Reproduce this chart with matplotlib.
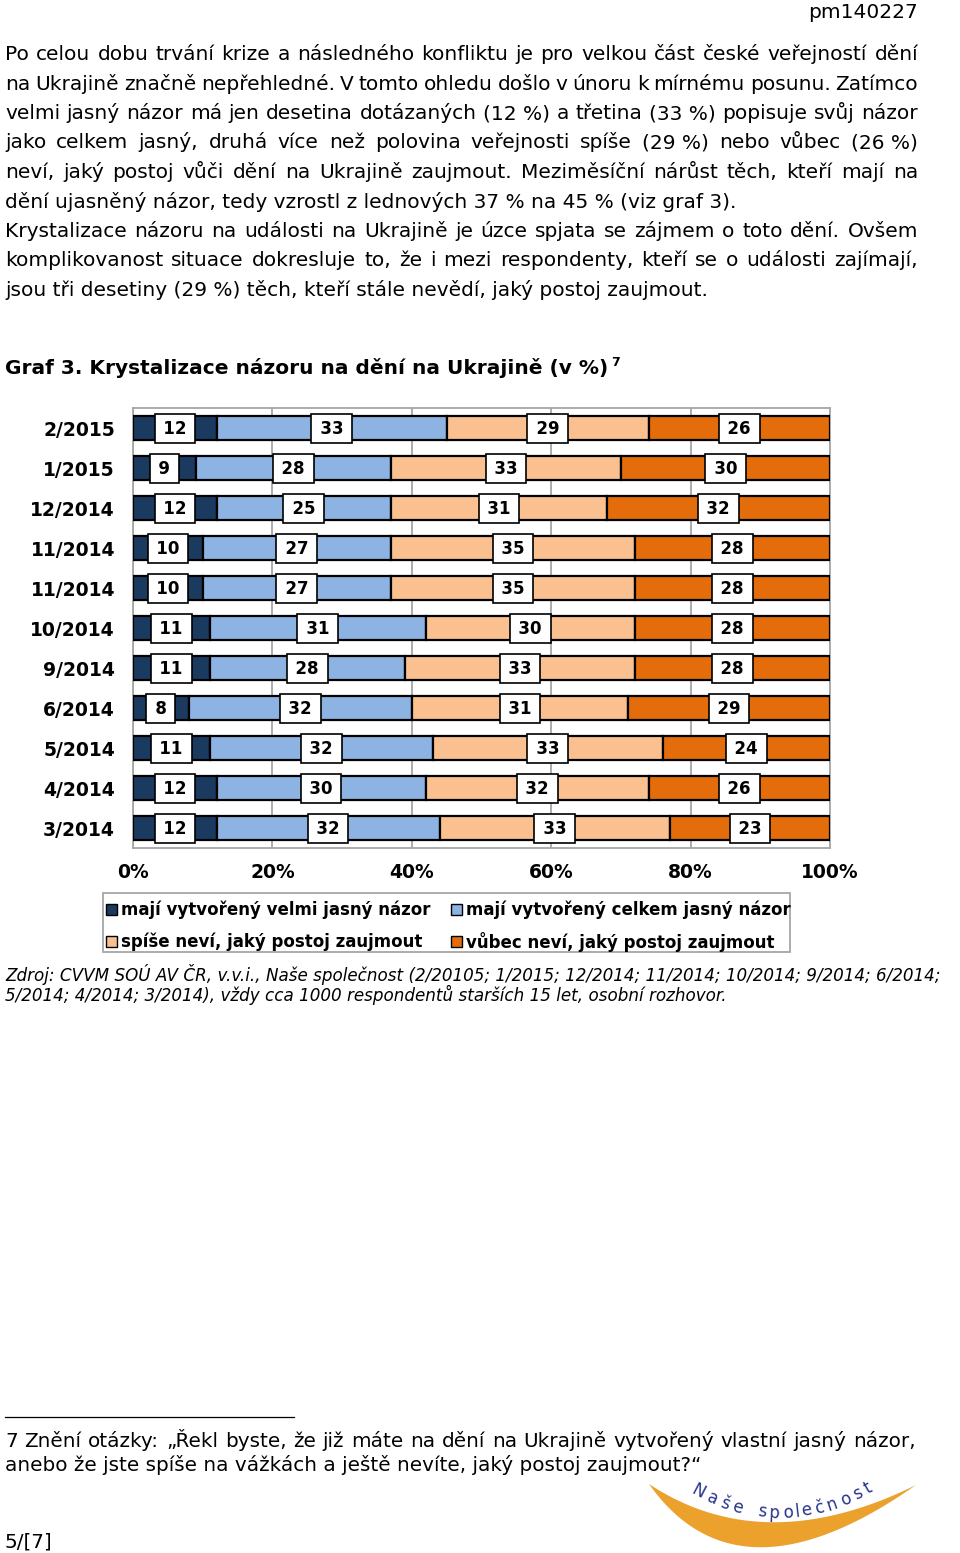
import matplotlib
matplotlib.use("Agg")
import matplotlib.pyplot as plt
import numpy as np
from matplotlib.patches import Rectangle, PathPatch
from matplotlib.path import Path

plt.rcParams['font.family'] = ['DejaVu Sans']

# ---------------- data ----------------
periods = ['2/2015', '1/2015', '12/2014', '11/2014', '11/2014', '10/2014',
           '9/2014', '6/2014', '5/2014', '4/2014', '3/2014']
very_clear = [12, 9, 12, 10, 10, 11, 11, 8, 11, 12, 12]
fairly_clear = [33, 28, 25, 27, 27, 31, 28, 32, 32, 30, 32]
rather_unsure = [29, 33, 31, 35, 35, 30, 33, 31, 33, 32, 33]
not_at_all = [26, 30, 32, 28, 28, 28, 28, 29, 24, 26, 23]
series_names = ['mají vytvořený velmi jasný názor', 'mají vytvořený celkem jasný názor',
                'spíše neví, jaký postoj zaujmout', 'vůbec neví, jaký postoj zaujmout']
colors = ['#1B3A5F', '#8DB3E2', '#FAC08F', '#E46C0A']
xticks = [0, 20, 40, 60, 80, 100]
xtick_labels = ['0%', '20%', '40%', '60%', '80%', '100%']

body_lines = [
    ("Po celou dobu trvání krize a následného konfliktu je pro velkou část české veřejností dění", True),
    ("na Ukrajině značně nepřehledné. V tomto ohledu došlo v únoru k mírnému posunu. Zatímco", True),
    ("velmi jasný názor má jen desetina dotázaných (12\u00a0%) a třetina (33\u00a0%) popisuje svůj názor", True),
    ("jako celkem jasný, druhá více než polovina veřejnosti spíše (29\u00a0%) nebo vůbec (26\u00a0%)", True),
    ("neví, jaký postoj vůči dění na Ukrajině zaujmout. Meziměsíční nárůst těch, kteří mají na", True),
    ("dění ujasněný názor, tedy vzrostl z lednových 37\u00a0% na 45\u00a0% (viz graf 3).", False),
    ("Krystalizace názoru na události na Ukrajině je úzce spjata se zájmem o toto dění. Ovšem", True),
    ("komplikovanost situace dokresluje to, že i mezi respondenty, kteří se o události zajímají,", True),
    ("jsou tři desetiny (29\u00a0%) těch, kteří stále nevědí, jaký postoj zaujmout.", False),
]
source_lines = [
    "Zdroj: CVVM SOÚ AV ČR, v.v.i., Naše společnost (2/20105; 1/2015; 12/2014; 11/2014; 10/2014; 9/2014; 6/2014;",
    "5/2014; 4/2014; 3/2014), vždy cca 1000 respondentů starších 15 let, osobní rozhovor.",
]
foot_lines = [
    ("7 Znění otázky: „Řekl byste, že již máte na dění na Ukrajině vytvořený vlastní jasný názor,", True),
    ("anebo že jste spíše na vážkách a ještě nevíte, jaký postoj zaujmout?“", False),
]
title = "Graf 3. Krystalizace názoru na dění na Ukrajině (v %)"

# ---------------- figure ----------------
W, H = 960, 1553
fig = plt.figure(figsize=(W / 100, H / 100), dpi=100)
fig.patch.set_facecolor('white')
renderer = fig.canvas.get_renderer()

# overlay axes in pixel coordinates for page text / decoration
pg = fig.add_axes([0, 0, 1, 1])
pg.set_xlim(0, W)
pg.set_ylim(H, 0)
pg.axis('off')


def text_width(s, size, **kw):
    t = pg.text(0, 0, s, size=size, **kw)
    w = t.get_window_extent(renderer).width
    t.remove()
    return w


def fit_size(s, target, **kw):
    return 10 * target / text_width(s, 10, **kw)


def draw_line(s, yb, x0, x1, size, justify, min_gap=3.0, **kw):
    if not justify:
        pg.text(x0, yb, s, size=size, va='baseline', ha='left', **kw)
        return
    words = s.split(' ')
    # shrink this line slightly if it would not fit with a minimal word gap
    natural = sum(text_width(w, size, **kw) for w in words)
    avail = x1 - x0 - min_gap * (len(words) - 1)
    if natural > avail:
        size = size * avail / natural
    objs = [pg.text(0, yb, w, size=size, va='baseline', ha='left', **kw) for w in words]
    widths = [o.get_window_extent(renderer).width for o in objs]
    gap = (x1 - x0 - sum(widths)) / (len(words) - 1)
    x = x0
    for o, w in zip(objs, widths):
        o.set_x(x)
        x += w + gap


size_fit_last = fit_size(body_lines[5][0], 745)
size_fit_min = min(fit_size(s, 913) for s, j in body_lines if j)
body_size = 0.5 * (size_fit_last + size_fit_min)
pg.text(918, 18, "pm140227", size=body_size, ha='right', va='baseline')
for i, (s, j) in enumerate(body_lines):
    draw_line(s, 60 + i * 29.5, 5, 918, body_size, j)

title_size = fit_size(title, 603, weight='bold')
pg.text(5, 374, title, size=title_size, weight='bold', va='baseline')
pg.text(5 + text_width(title, title_size, weight='bold') + 3, 366, "7",
        size=title_size * 0.62, weight='bold', va='baseline')

# ---------------- chart ----------------
ax = fig.add_axes([133 / W, 1 - 848 / H, (830 - 133) / W, (848 - 408) / H])
y = np.arange(len(periods))
left = np.zeros(len(periods))
for vals, col in zip([very_clear, fairly_clear, rather_unsure, not_at_all], colors):
    vals = np.array(vals, dtype=float)
    ax.barh(y, vals, left=left, height=0.6, color=col, edgecolor='black', linewidth=1.6, zorder=3)
    for yi, (l, v) in enumerate(zip(left, vals)):
        ax.text(l + v / 2, yi + 0.02, f"\u2009{int(v)}\u2009", ha='center', va='center', size=12,
                weight='bold', zorder=5,
                bbox=dict(boxstyle='square,pad=0.32', fc='white', ec='black', lw=1.2))
    left += vals

ax.set_xlim(0, 100)
ax.set_ylim(len(periods) - 0.5, -0.5)
ax.set_xticks(xticks)
ax.set_xticklabels(xtick_labels, size=13.5, weight='bold')
ax.set_yticks(y)
ax.set_yticklabels(periods, size=13.5, weight='bold')
ax.tick_params(axis='both', length=0)
ax.tick_params(axis='x', pad=11)
ax.tick_params(axis='y', pad=13)
ax.xaxis.grid(True, color='#A6A6A6', lw=1.3, zorder=0)
ax.set_axisbelow(True)
for sp in ax.spines.values():
    sp.set_color('#A6A6A6')
    sp.set_linewidth(1.3)

# legend (manual)
pg.add_patch(Rectangle((103, 893), 687, 59, fc='white', ec='#A6A6A6', lw=1.3))
leg_size = fit_size(series_names[0], 309, weight='bold')
leg_pos = [(106, 909), (451, 909), (106, 941), (451, 941)]
for (lx, ly), name, col in zip(leg_pos, series_names, colors):
    pg.add_patch(Rectangle((lx, ly - 5.5), 11, 11, fc=col, ec='black', lw=1.0))
    pg.text(lx + 15, ly + 1, name, size=leg_size, weight='bold', va='center', ha='left')

# source
src_size = 0.5 * (fit_size(source_lines[0], 953, style='italic') +
                  fit_size(source_lines[1], 709, style='italic'))
for i, s in enumerate(source_lines):
    pg.text(5, 981 + i * 20, s, size=src_size, style='italic', va='baseline')

# footnote
pg.plot([5, 294], [1417, 1417], color='black', lw=0.9)
foot_size = min(fit_size(foot_lines[0][0], 911), 0.5 * (fit_size(foot_lines[0][0], 911) +
                                                       fit_size(foot_lines[1][0], 692)))
for i, (s, j) in enumerate(foot_lines):
    draw_line(s, 1447 + i * 24, 5, 916, foot_size, j)
pg.text(5, 1547, "5/[7]", size=foot_size, va='baseline')


# logo: crescent + arced text
def qbez(p0, c, p1, n=80):
    t = np.linspace(0, 1, n)[:, None]
    return (1 - t) ** 2 * np.array(p0) + 2 * (1 - t) * t * np.array(c) + t ** 2 * np.array(p1)


outer = qbez((649, 1484), (738, 1610), (916, 1485))
inner = qbez((916, 1485), (764, 1560), (649, 1484))
verts = np.vstack([outer, inner, outer[:1]])
codes = [Path.MOVETO] + [Path.LINETO] * (len(verts) - 2) + [Path.CLOSEPOLY]
pg.add_patch(PathPatch(Path(verts, codes), fc='#EBA12C', ec='none'))

logo = "Naše společnost"
lsize = 12
xc, yc, depth, half = 780, 1513, 26, 90
kk = depth / half ** 2
ws = [text_width(c, lsize) if c != ' ' else 9 for c in logo]
spread = 1.3
total = sum(ws) * spread
xpos = 781 - total / 2
for c, w in zip(logo, ws):
    xm = xpos + w * spread / 2
    yy = yc - kk * (xm - xc) ** 2
    dydx = -2 * kk * (xm - xc)
    ang = -np.degrees(np.arctan(dydx))
    if c != ' ':
        pg.text(xm, yy, c, size=lsize, color='#27348B', ha='center', va='center',
                rotation=ang, rotation_mode='anchor')
    xpos += w * spread

fig.savefig("out.png", dpi=100)
